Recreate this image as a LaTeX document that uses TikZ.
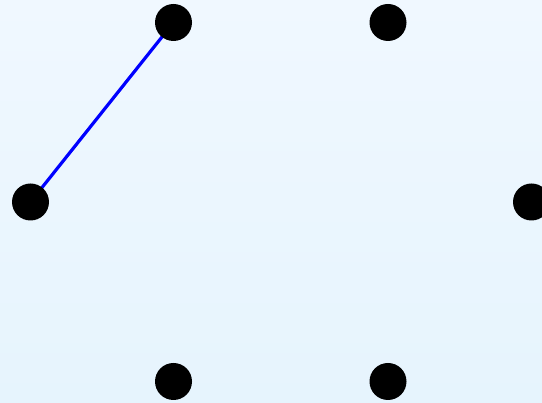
\documentclass[tikz,border=0pt]{standalone}
\usepackage{tikz}
\usetikzlibrary{backgrounds}
\definecolor{bgTop}{HTML}{F0F8FF}
\definecolor{bgBot}{HTML}{E6F4FD}
\tikzset{
  %% Vertices
  vdot/.style={circle, fill=black, inner sep=0pt, minimum size=37pt},
  %% Edge
  vedge/.style={draw=blue, line width=3.2pt},
}

\begin{document}
\begin{tikzpicture}[x=1pt, y=-1pt]
\useasboundingbox (0,0) rectangle (542,403);

%% Vertices
\node[vdot] (vTL) at (173.5, 22.5) {};
\node[vdot] (vTR) at (388.0, 22.5) {};
\node[vdot] (vL)  at ( 30.5,202.0) {};
\node[vdot] (vR)  at (531.5,202.0) {};
\node[vdot] (vBL) at (173.5,381.5) {};
\node[vdot] (vBR) at (388.0,381.5) {};

%% Background and edge
\begin{scope}[on background layer]
\shade[top color=bgTop, bottom color=bgBot] (0,0) rectangle (542,403);
\draw[vedge] (vL.center) -- (vTL.center);
\end{scope}

\end{tikzpicture}
\end{document}
